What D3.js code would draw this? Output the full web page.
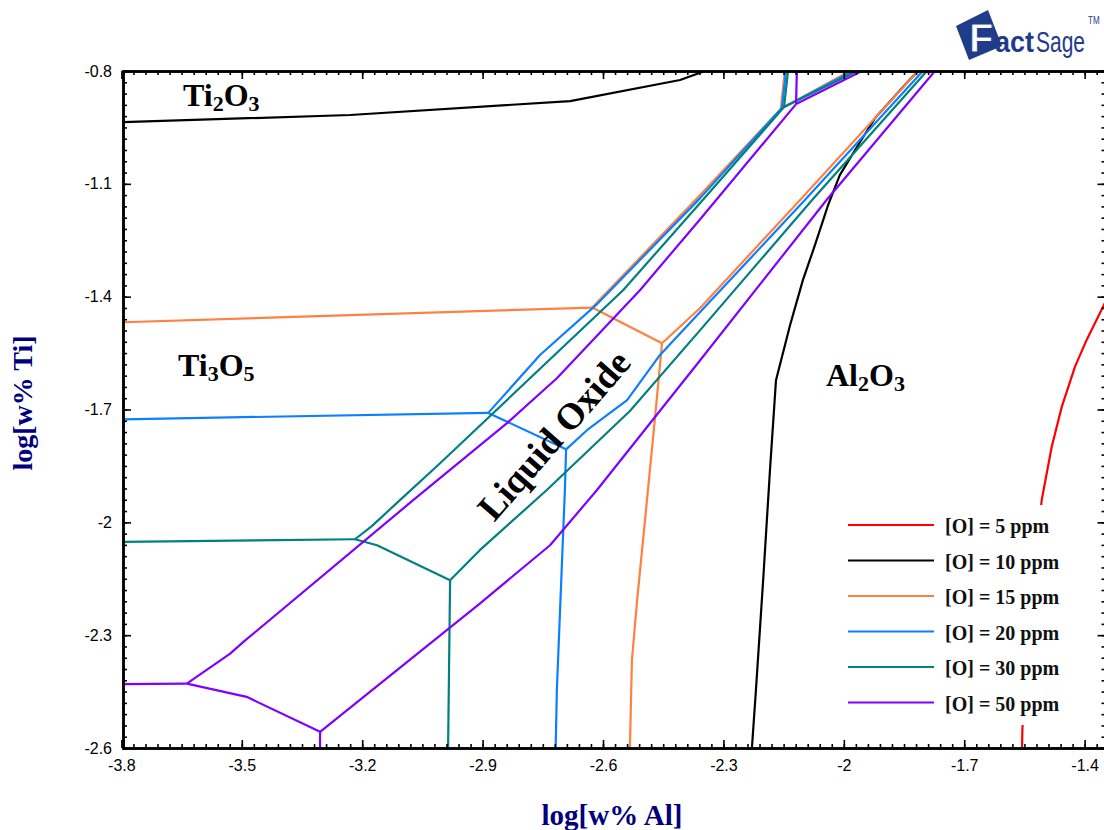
<!DOCTYPE html>
<html>
<head>
<meta charset="utf-8">
<script src="https://cdn.jsdelivr.net/npm/d3@7"></script>
<style>
body { margin: 0; background: #fff; }
svg { display: block; }
.tick text { font-family: Arial, "Liberation Sans", sans-serif; font-size: 16px; fill: #000; }
.axis path, .axis line { stroke: #000; }
</style>
</head>
<body>
<svg id="chart" width="1104" height="830"></svg>
<script>
// axis ticks
var xTicks = [-3.8, -3.5, -3.2, -2.9, -2.6, -2.3, -2, -1.7, -1.4];
var yTicks = [-0.8, -1.1, -1.4, -1.7, -2, -2.3, -2.6];

// each series = list of boundary polylines, [log w% Al, log w% Ti]
var o5ppm = [
  [[-1.33, -1.374], [-1.352, -1.422], [-1.395, -1.515], [-1.424, -1.586], [-1.457, -1.693], [-1.482, -1.799],
   [-1.507, -1.941], [-1.526, -2.154], [-1.544, -2.393], [-1.555, -2.547], [-1.556, -2.6]]
];
var o10ppm = [
  [[-3.796, -0.936], [-3.230, -0.917], [-2.682, -0.880], [-2.408, -0.824], [-2.346, -0.8]],
  [[-1.815, -0.8], [-1.848, -0.837], [-1.922, -0.925], [-1.972, -1.010], [-2.010, -1.077], [-2.039, -1.156],
   [-2.072, -1.263], [-2.102, -1.356], [-2.134, -1.476], [-2.169, -1.622], [-2.184, -1.861], [-2.201, -2.154],
   [-2.219, -2.446], [-2.229, -2.6]]
];
var o15ppm = [
  [[-3.796, -1.468], [-2.627, -1.429]],
  [[-2.627, -1.429], [-2.358, -1.130], [-2.157, -0.901]],
  [[-2.157, -0.901], [-2.147, -0.8]],
  [[-2.157, -0.901], [-1.985, -0.8]],
  [[-2.627, -1.429], [-2.453, -1.524]],
  [[-2.453, -1.524], [-2.358, -1.430], [-2.109, -1.143], [-1.815, -0.8]],
  [[-2.453, -1.524], [-2.471, -1.728], [-2.493, -1.968], [-2.515, -2.207], [-2.528, -2.367], [-2.533, -2.6]]
];
var o20ppm = [
  [[-3.796, -1.726], [-2.886, -1.709]],
  [[-2.886, -1.709], [-2.757, -1.555], [-2.617, -1.422], [-2.358, -1.138], [-2.154, -0.898]],
  [[-2.154, -0.898], [-2.144, -0.8]],
  [[-2.154, -0.898], [-1.977, -0.8]],
  [[-2.886, -1.709], [-2.874, -1.715], [-2.692, -1.806]],
  [[-2.692, -1.806], [-2.640, -1.755], [-2.540, -1.675], [-2.458, -1.555], [-2.358, -1.441], [-2.097, -1.143], [-1.803, -0.8]],
  [[-2.692, -1.806], [-2.695, -1.914], [-2.715, -2.446], [-2.718, -2.6]]
];
var o30ppm = [
  [[-3.796, -2.052], [-3.218, -2.045]],
  [[-3.218, -2.045], [-3.176, -2.010], [-3.106, -1.941], [-3.006, -1.843], [-2.550, -1.383], [-2.358, -1.151], [-2.149, -0.896]],
  [[-2.149, -0.896], [-2.139, -0.8]],
  [[-2.149, -0.896], [-1.967, -0.8]],
  [[-3.218, -2.045], [-3.163, -2.061], [-2.981, -2.154]],
  [[-2.981, -2.154], [-2.907, -2.074], [-2.740, -1.914], [-2.533, -1.704], [-2.358, -1.489], [-2.079, -1.143], [-1.793, -0.8]],
  [[-2.981, -2.154], [-2.986, -2.6]]
];
var o50ppm = [
  [[-3.796, -2.430], [-3.637, -2.429]],
  [[-3.637, -2.429], [-3.529, -2.349], [-3.496, -2.318], [-3.073, -1.941], [-2.840, -1.737], [-2.715, -1.617],
   [-2.508, -1.383], [-2.358, -1.194], [-2.119, -0.888]],
  [[-2.119, -0.888], [-2.117, -0.8]],
  [[-2.119, -0.888], [-1.955, -0.8]],
  [[-3.637, -2.429], [-3.488, -2.464], [-3.305, -2.557]],
  [[-3.305, -2.557], [-3.305, -2.6]],
  [[-3.305, -2.557], [-2.907, -2.216], [-2.732, -2.061], [-2.615, -1.914], [-2.358, -1.569], [-2.043, -1.143], [-1.773, -0.8]]
];

var seriesData = [o5ppm, o10ppm, o15ppm, o20ppm, o30ppm, o50ppm];
var seriesLabels = ["[O] = 5 ppm", "[O] = 10 ppm", "[O] = 15 ppm", "[O] = 20 ppm", "[O] = 30 ppm", "[O] = 50 ppm"];
var seriesColors = ["#ff0000", "#000000", "#ff8040", "#0a80ff", "#008080", "#8000ff"];

// phase field labels (main text, subscript, main text, subscript)
var phaseLabels = [
  {x: -3.6465, y: -0.893, parts: ["Ti", "2", "O", "3"]},
  {x: -3.659, y: -1.611, parts: ["Ti", "3", "O", "5"]},
  {x: -2.0444, y: -1.638, parts: ["Al", "2", "O", "3"]}
];
var liquidLabel = {x: -2.722, y: -1.768, text: "Liquid Oxide"};

var svg = d3.select("#chart");
svg.append("rect").attr("width", 1104).attr("height", 830).attr("fill", "#fff");

var x = d3.scaleLinear().domain([-3.796, -1.348]).range([123, 1105.5]);
var y = d3.scaleLinear().domain([-0.8, -2.6]).range([71, 748]);

var fmt = function(d) { return String(d); };
var xMinor = d3.range(0, 82).map(function(i) { return +(-3.8 + i * 0.03).toFixed(2); })
  .filter(function(v) { return v >= -3.796 && v <= -1.348; });
var yMinor = d3.range(0, 61).map(function(i) { return +(-0.8 - i * 0.03).toFixed(2); });

svg.append("defs").append("clipPath").attr("id", "plotclip")
  .append("rect")
    .attr("x", x.range()[0]).attr("y", y.range()[0])
    .attr("width", x.range()[1] - x.range()[0])
    .attr("height", y.range()[1] - y.range()[0]);

// curves
var line = d3.line().x(function(d) { return x(d[0]); }).y(function(d) { return y(d[1]); });
var plot = svg.append("g").attr("clip-path", "url(#plotclip)");
seriesData.forEach(function(segs, i) {
  plot.append("g").selectAll("path")
    .data(segs)
    .enter().append("path")
      .attr("d", line)
      .attr("fill", "none")
      .attr("stroke", seriesColors[i])
      .attr("stroke-width", 2.2)
      .attr("stroke-linejoin", "round");
});

// axes, ticks point inward
function styleAxis(g) {
  g.attr("class", "axis");
  g.select(".domain").attr("stroke-width", 2.5);
  g.selectAll(".tick line").attr("stroke-width", 1.6);
}
var yBottom = y(-2.6), yTop = y(-0.8), xLeft = x.range()[0], xRight = x.range()[1];

svg.append("g").attr("transform", "translate(0," + yBottom + ")")
  .call(d3.axisBottom(x).tickValues(xMinor).tickSize(-4).tickFormat("")).call(styleAxis);
svg.append("g").attr("transform", "translate(0," + yBottom + ")")
  .call(d3.axisBottom(x).tickValues(xTicks).tickSizeInner(-8).tickSizeOuter(0).tickPadding(11.5).tickFormat(fmt)).call(styleAxis);
svg.append("g").attr("transform", "translate(0," + yTop + ")")
  .call(d3.axisTop(x).tickValues(xMinor).tickSize(-4).tickFormat("")).call(styleAxis);
svg.append("g").attr("transform", "translate(0," + yTop + ")")
  .call(d3.axisTop(x).tickValues(xTicks).tickSizeInner(-8).tickSizeOuter(0).tickFormat("")).call(styleAxis);
svg.append("g").attr("transform", "translate(" + xLeft + ",0)")
  .call(d3.axisLeft(y).tickValues(yMinor).tickSize(-4).tickFormat("")).call(styleAxis);
svg.append("g").attr("transform", "translate(" + xLeft + ",0)")
  .call(d3.axisLeft(y).tickValues(yTicks).tickSizeInner(-8).tickSizeOuter(0).tickPadding(11).tickFormat(fmt)).call(styleAxis);
svg.append("g").attr("transform", "translate(" + xRight + ",0)")
  .call(d3.axisRight(y).tickValues(yMinor).tickSize(-4).tickFormat("")).call(styleAxis);
svg.append("g").attr("transform", "translate(" + xRight + ",0)")
  .call(d3.axisRight(y).tickValues(yTicks).tickSizeInner(-8).tickSizeOuter(0).tickFormat("")).call(styleAxis);

// axis titles
var serif = "'Times New Roman', 'Liberation Serif', serif";
svg.append("text").text("log[w% Al]")
  .attr("x", 612).attr("y", 825)
  .attr("text-anchor", "middle")
  .style("font-family", serif).style("font-weight", "bold").style("font-size", "29px")
  .attr("fill", "#00007f");
svg.append("text").text("log[w% Ti]")
  .attr("transform", "translate(32,403) rotate(-90)")
  .attr("text-anchor", "middle")
  .style("font-family", serif).style("font-weight", "bold").style("font-size", "28px")
  .attr("fill", "#00007f");

// phase labels
phaseLabels.forEach(function(p) {
  var t = svg.append("text")
    .attr("x", x(p.x)).attr("y", y(p.y))
    .style("font-family", serif).style("font-weight", "bold").style("font-size", "32px")
    .attr("fill", "#000");
  p.parts.forEach(function(s, k) {
    var ts = t.append("tspan").text(s);
    if (k % 2 == 1) ts.style("font-size", "22px").attr("dy", 5);
    else if (k > 0) ts.attr("dy", -5);
  });
});
svg.append("text").text(liquidLabel.text)
  .attr("transform", "translate(" + x(liquidLabel.x) + "," + y(liquidLabel.y) + ") rotate(-49)")
  .attr("text-anchor", "middle")
  .attr("dominant-baseline", "central")
  .style("font-family", serif).style("font-weight", "bold").style("font-size", "37px")
  .attr("fill", "#000");

// legend
var legend = svg.append("g").attr("transform", "translate(848,525)");
legend.append("rect")
  .attr("x", -8).attr("y", -20).attr("width", 225).attr("height", 220)
  .attr("fill", "#fff");
var rows = legend.selectAll("g.row")
  .data(seriesLabels)
  .enter().append("g")
    .attr("class", "row")
    .attr("transform", function(d, i) { return "translate(0," + (i * 35.5) + ")"; });
rows.append("line")
  .attr("x1", 0).attr("x2", 86)
  .attr("stroke", function(d, i) { return seriesColors[i]; })
  .attr("stroke-width", 2.2);
rows.append("text").text(function(d) { return d; })
  .attr("x", 97).attr("y", 1)
  .attr("dominant-baseline", "central")
  .style("font-family", serif).style("font-weight", "bold").style("font-size", "20px")
  .attr("fill", "#111");

// FactSage logo
var logo = svg.append("g");
var navy = "#1f3c8a";
var sans = "Arial, 'Liberation Sans', sans-serif";
logo.append("polygon")
  .attr("points", "956,26 988,10 1002,46 969,60")
  .attr("fill", navy);
logo.append("text").text("F")
  .attr("x", 969).attr("y", 52)
  .style("font-family", sans).style("font-weight", "bold").style("font-size", "40px")
  .attr("fill", "#fff").attr("stroke", navy).attr("stroke-width", 1);
logo.append("text").text("act")
  .attr("transform", "translate(995,52) scale(0.9,1)")
  .style("font-family", sans).style("font-weight", "bold").style("font-size", "30px")
  .attr("fill", navy);
logo.append("text").text("Sage")
  .attr("transform", "translate(1036,52) scale(0.7,1)")
  .style("font-family", sans).style("font-size", "30px")
  .attr("fill", navy);
logo.append("text").text("TM")
  .attr("transform", "translate(1088,24) scale(0.8,1)")
  .style("font-family", sans).style("font-size", "10px")
  .attr("fill", navy);
</script>
</body>
</html>
